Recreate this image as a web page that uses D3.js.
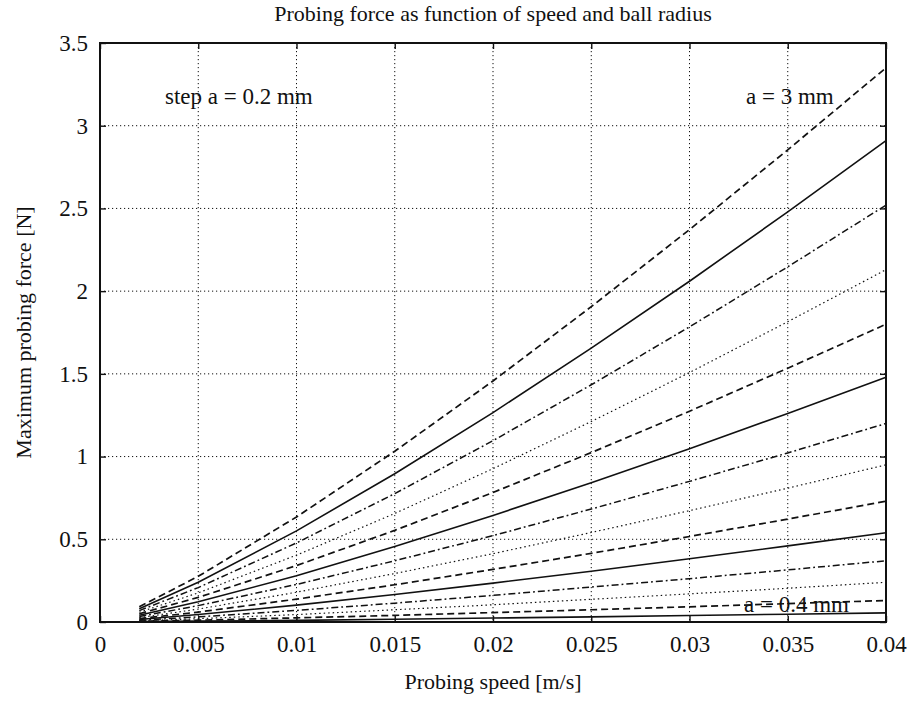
<!DOCTYPE html>
<html>
<head>
<meta charset="utf-8">
<script src="https://cdn.jsdelivr.net/npm/d3@7"></script>
<style>
  body { margin: 0; background: #fff; }
  text { font-family: "Liberation Serif", "DejaVu Serif", serif; fill: #111; }
</style>
</head>
<body>
<svg id="chart" width="908" height="705"></svg>
<script>
// probing speed samples [m/s]
const speeds = [0.002, 0.005, 0.01, 0.015, 0.02, 0.025, 0.03, 0.035, 0.04];
// ball radius a [mm], one curve each
const radii = [0.4, 0.6, 0.8, 1.0, 1.2, 1.4, 1.6, 1.8, 2.0, 2.2, 2.4, 2.6, 2.8, 3.0];
// maximum probing force [N], one row per radius
const force04 = [0.002, 0.005, 0.010, 0.017, 0.024, 0.031, 0.039, 0.047, 0.055];
const force06 = [0.004, 0.011, 0.025, 0.040, 0.057, 0.074, 0.092, 0.111, 0.13];
const force08 = [0.007, 0.020, 0.045, 0.074, 0.104, 0.137, 0.170, 0.204, 0.24];
const force10 = [0.010, 0.031, 0.070, 0.114, 0.161, 0.211, 0.262, 0.315, 0.37];
const force12 = [0.015, 0.045, 0.102, 0.166, 0.235, 0.307, 0.382, 0.460, 0.54];
const force14 = [0.020, 0.060, 0.138, 0.225, 0.318, 0.415, 0.517, 0.622, 0.73];
const force16 = [0.026, 0.078, 0.180, 0.293, 0.413, 0.541, 0.673, 0.809, 0.95];
const force18 = [0.033, 0.099, 0.227, 0.370, 0.522, 0.683, 0.850, 1.022, 1.20];
const force20 = [0.041, 0.122, 0.280, 0.456, 0.644, 0.842, 1.048, 1.261, 1.48];
const force22 = [0.050, 0.149, 0.341, 0.554, 0.783, 1.024, 1.274, 1.534, 1.80];
const force24 = [0.059, 0.176, 0.404, 0.656, 0.927, 1.212, 1.508, 1.815, 2.13];
const force26 = [0.069, 0.208, 0.478, 0.776, 1.096, 1.434, 1.784, 2.147, 2.52];
const force28 = [0.080, 0.240, 0.551, 0.896, 1.266, 1.656, 2.060, 2.479, 2.91];
const force30 = [0.092, 0.276, 0.635, 1.032, 1.457, 1.906, 2.372, 2.854, 3.35];
const forces = [force04, force06, force08, force10, force12, force14, force16,
                force18, force20, force22, force24, force26, force28, force30];
// tick labels
const xTicks = [0, 0.005, 0.01, 0.015, 0.02, 0.025, 0.03, 0.035, 0.04];
const yTicks = [0, 0.5, 1, 1.5, 2, 2.5, 3, 3.5];

const svg = d3.select('#chart');
const L = 100, R = 886, T = 43, B = 622;

const x = d3.scaleLinear().domain([0, 0.04]).range([L, R]);
const y = d3.scaleLinear().domain([0, 3.5]).range([B, T]);

// grid
const grid = svg.append('g').attr('stroke', '#111').attr('stroke-width', 1)
  .attr('stroke-dasharray', '1.2,2.8');
grid.selectAll('.gx').data(xTicks.slice(1, -1)).enter().append('line')
  .attr('x1', d => x(d)).attr('x2', d => x(d)).attr('y1', T).attr('y2', B);
grid.selectAll('.gy').data(yTicks.slice(1, -1)).enter().append('line')
  .attr('x1', L).attr('x2', R).attr('y1', d => y(d)).attr('y2', d => y(d));

// curves, line style cycles solid / dashed / dotted / dash-dot
const dashes = [null, '7,4', '1.5,3', '7,3,1.8,3'];
const widths = [1.6, 1.7, 1.2, 1.5];
const line = d3.line().x(d => x(d[0])).y(d => y(d[1]));
svg.append('g').selectAll('path').data(forces).enter().append('path')
  .attr('d', f => line(speeds.map((s, i) => [s, f[i]])))
  .attr('fill', 'none').attr('stroke', '#111')
  .attr('stroke-width', (f, i) => widths[i % 4])
  .attr('stroke-dasharray', (f, i) => dashes[i % 4]);

// axes with inward ticks on all sides
const tickFmt = d => d === 0 ? '0' : String(d);
svg.append('g').attr('transform', `translate(0,${B})`)
  .call(d3.axisBottom(x).tickValues(xTicks).tickSizeInner(-6).tickSizeOuter(0).tickPadding(14).tickFormat(tickFmt))
  .call(g => g.selectAll('text').attr('font-size', 23).attr('font-family', '"Liberation Serif", serif').attr('fill', '#111'));
svg.append('g').attr('transform', `translate(${L},0)`)
  .call(d3.axisLeft(y).tickValues(yTicks).tickSizeInner(-6).tickSizeOuter(0).tickPadding(12).tickFormat(tickFmt))
  .call(g => g.selectAll('text').attr('font-size', 23).attr('font-family', '"Liberation Serif", serif').attr('fill', '#111'));
svg.append('g').attr('transform', `translate(0,${T})`)
  .call(d3.axisTop(x).tickValues(xTicks).tickSizeInner(-6).tickSizeOuter(0).tickFormat(''));
svg.append('g').attr('transform', `translate(${R},0)`)
  .call(d3.axisRight(y).tickValues(yTicks).tickSizeInner(-6).tickSizeOuter(0).tickFormat(''));
svg.selectAll('.domain').remove();
svg.selectAll('.tick line').attr('stroke', '#111').attr('stroke-width', 1.4);

// box
svg.append('rect').attr('x', L).attr('y', T).attr('width', R - L).attr('height', B - T)
  .attr('fill', 'none').attr('stroke', '#111').attr('stroke-width', 2);

// titles
svg.append('text').attr('x', (L + R) / 2).attr('y', 21).attr('text-anchor', 'middle')
  .attr('font-size', 22).text('Probing force as function of speed and ball radius');
svg.append('text').attr('x', (L + R) / 2).attr('y', 689).attr('text-anchor', 'middle')
  .attr('font-size', 22).text('Probing speed [m/s]');
svg.append('text').attr('transform', `translate(31,${(T + B) / 2}) rotate(-90)`)
  .attr('text-anchor', 'middle').attr('font-size', 22).text('Maximum probing force [N]');

// annotations
svg.append('text').attr('x', 165).attr('y', 104).attr('font-size', 23).text('step a = 0.2 mm');
svg.append('text').attr('x', 746).attr('y', 104).attr('font-size', 23).text('a = 3 mm');
svg.append('text').attr('x', 744).attr('y', 612).attr('font-size', 23).text('a = 0.4 mm');
</script>
</body>
</html>
